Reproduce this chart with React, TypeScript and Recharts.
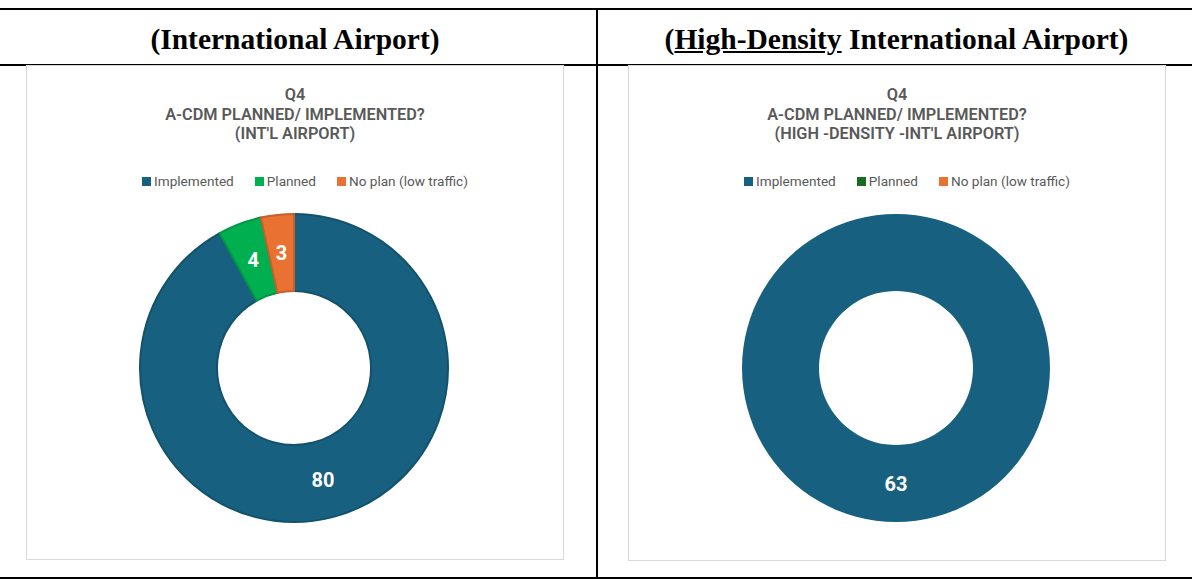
import { Cell, Legend, Pie, PieChart } from "recharts"

const categories = ["Implemented", "Planned", "No plan (low traffic)"]
const intlValues = [80, 4, 3]
const highDensityValues = [63, 0, 0]

const intlTitle = ["Q4", "A-CDM PLANNED/ IMPLEMENTED?", "(INT'L AIRPORT)"]
const highDensityTitle = ["Q4", "A-CDM PLANNED/ IMPLEMENTED?", "(HIGH -DENSITY -INT'L AIRPORT)"]

const intlColors = ["#17607F", "#00B050", "#E97132"]
const highDensityColors = ["#17607F", "#196B24", "#E97132"]

const RADIAN = Math.PI / 180
const SANS = "Roboto, 'Liberation Sans', Arial, sans-serif"
const SERIF = "'Liberation Serif', 'Times New Roman', serif"

function darken(hex: string, f = 0.85) {
  const n = parseInt(hex.slice(1), 16)
  const r = Math.round(((n >> 16) & 255) * f)
  const g = Math.round(((n >> 8) & 255) * f)
  const b = Math.round((n & 255) * f)
  return `rgb(${r},${g},${b})`
}

const renderLabel = (props: any) => {
  const { cx, cy, midAngle, innerRadius, outerRadius, value } = props
  if (!value) return null
  const r = (innerRadius + outerRadius) / 2
  const x = cx + r * Math.cos(-midAngle * RADIAN)
  const y = cy + r * Math.sin(-midAngle * RADIAN)
  return (
    <text
      x={x}
      y={y}
      fill="#fff"
      textAnchor="middle"
      dominantBaseline="central"
      fontSize={20}
      fontWeight={700}
      fontFamily={SANS}
    >
      {value}
    </text>
  )
}

function LegendRow({ colors }: { colors: string[] }) {
  return (
    <div style={{ display: "flex", justifyContent: "center", gap: 21, fontFamily: SANS, fontSize: 13.6, color: "#595959" }}>
      {categories.map((c, i) => (
        <div key={c} style={{ display: "flex", alignItems: "center" }}>
          <span style={{ width: 9, height: 9, background: colors[i], marginRight: 3, display: "inline-block" }} />
          <span>{c}</span>
        </div>
      ))}
    </div>
  )
}

function Donut({
  title,
  values,
  colors,
  left,
  width,
  height,
}: {
  title: string[]
  values: number[]
  colors: string[]
  left: number
  width: number
  height: number
}) {
  const data = categories.map((name, i) => ({ name, value: values[i] }))
  const total = values.reduce((a, b) => a + b, 0)
  return (
    <div
      style={{
        position: "absolute",
        left,
        top: 65,
        width,
        height,
        border: "1px solid #d9d9d9",
        background: "#fff",
      }}
    >
      <div
        style={{
          position: "absolute",
          top: 19,
          left: 0,
          width: "100%",
          textAlign: "center",
          fontFamily: SANS,
          fontWeight: 600,
          fontSize: 16.3,
          lineHeight: "19.5px",
          color: "#595959",
        }}
      >
        {title.map((t) => (
          <div key={t}>{t}</div>
        ))}
      </div>
      <PieChart width={width} height={height} margin={{ top: 0, right: 0, bottom: 0, left: 0 }}>
        <Legend
          verticalAlign="bottom"
          wrapperStyle={{ top: 107, bottom: "auto", left: 10, width: "100%" }}
          content={() => <LegendRow colors={colors} />}
        />
        <Pie
          data={data}
          dataKey="value"
          nameKey="name"
          cx={width / 2 - 1}
          cy={302}
          innerRadius={77}
          outerRadius={154}
          startAngle={90}
          endAngle={-270}
          label={renderLabel}
          labelLine={false}
          isAnimationActive={false}
        >
          {data.map((d, i) => (
            <Cell
              key={d.name}
              fill={colors[i]}
              stroke={d.value > 0 && d.value < total ? darken(colors[i]) : "none"}
              strokeWidth={2}
            />
          ))}
        </Pie>
      </PieChart>
    </div>
  )
}

export default function App() {
  const line = "#000"
  const header = {
    position: "absolute" as const,
    top: 10,
    height: 58,
    display: "flex",
    alignItems: "center",
    justifyContent: "center",
    fontFamily: SERIF,
    fontWeight: 700,
    fontSize: 29.5,
    whiteSpace: "pre" as const,
  }
  return (
    <div style={{ position: "absolute", left: 0, top: 0, width: 1192, height: 579, background: "#fff", overflow: "hidden" }}>
      <div style={{ position: "absolute", left: 0, top: 8, width: 1192, height: 2, background: line }} />
      <div style={{ position: "absolute", left: 0, top: 64, width: 1192, height: 2, background: line }} />
      <div style={{ position: "absolute", left: 0, top: 577, width: 1192, height: 2, background: line }} />
      <div style={{ position: "absolute", left: 596, top: 8, width: 2, height: 571, background: line }} />

      <div style={{ ...header, left: 0, width: 590 }}>(International Airport)</div>
      <div style={{ ...header, left: 598, width: 597 }}>
        (<span style={{ textDecoration: "underline" }}>High-Density</span> International Airport)
      </div>

      <Donut title={intlTitle} values={intlValues} colors={intlColors} left={26} width={536} height={493} />
      <Donut
        title={highDensityTitle}
        values={highDensityValues}
        colors={highDensityColors}
        left={628}
        width={536}
        height={494}
      />
    </div>
  )
}
